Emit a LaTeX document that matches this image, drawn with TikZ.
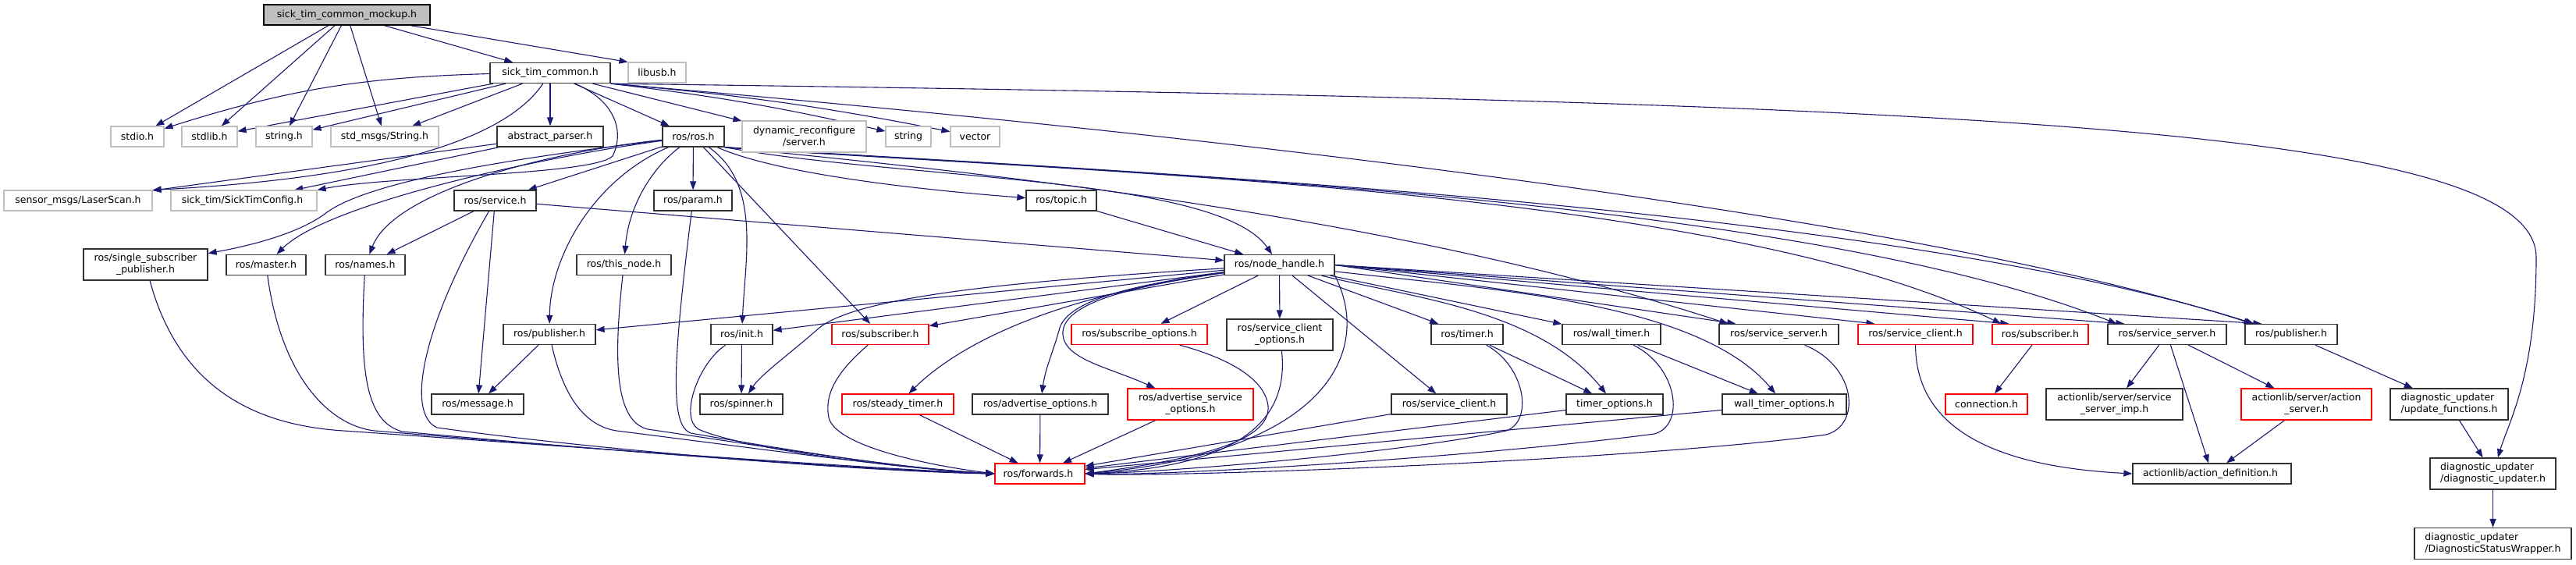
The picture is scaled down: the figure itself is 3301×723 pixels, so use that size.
\documentclass[tikz,border=0pt]{standalone}
\usepackage{fontspec}
\setmainfont{DejaVu Sans}
\usepackage{tikz}
\usetikzlibrary{arrows.meta, backgrounds}
\definecolor{edgeblue}{RGB}{25, 25, 112}
\definecolor{sysgray}{RGB}{191, 191, 191}
\definecolor{nodocred}{RGB}{255, 0, 0}

\begin{document}
\begin{tikzpicture}[
  x=1pt, y=1pt,
  hdr/.style={rectangle, draw=black!80, line width=1.3pt, fill=white, inner sep=0pt,
              font=\fontsize{12.5}{15}\selectfont, align=center},
  sysh/.style={hdr, draw=sysgray, line width=1.1pt},
  nodoc/.style={hdr, draw=nodocred},
  curfile/.style={hdr, draw=black, fill=sysgray},
  dep/.style={draw=edgeblue, line width=1.1pt, -{Triangle[length=11pt, width=8pt]}},
]
  \useasboundingbox (0,0) rectangle (3301,-723);

  % --- the file itself ---
  \node[curfile, minimum width=213, minimum height=26] (mock) at (444.5,-19)
    {sick\_tim\_common\_mockup.h};

  % documented headers
  \foreach \nm/\x/\y/\w/\h/\txt in {
    stc/705/93.5/154/26/{sick\_tim\_common.h},
    absp/705/175/136/26/{abstract\_parser.h},
    rosh/888.5/175/79/26/{ros/ros.h},
    service/634.5/257/105/26/{ros/service.h},
    param/888/257/100/26/{ros/param.h},
    topic/1360/257/90/26/{ros/topic.h},
    ssp/186.5/339/159/40/{ros/single\_subscriber\\\_publisher.h},
    master/341/339.5/102/26/{ros/master.h},
    names/468/339.5/102/26/{ros/names.h},
    thisnode/799.5/339.5/121/26/{ros/this\_node.h},
    nh/1639.5/339.5/141/26/{ros/node\_handle.h},
    pubL/704/428.5/118/26/{ros/publisher.h},
    init/950.5/428.5/79/26/{ros/init.h},
    scopt/1640/429/136/40/{ros/service\_client\\\_options.h},
    timer/1880/428.5/92/26/{ros/timer.h},
    wtimer/2065/428.5/126/26/{ros/wall\_timer.h},
    ssM/2279.5/428.5/153/26/{ros/service\_server.h},
    ssR/2777/428.5/152/26/{ros/service\_server.h},
    pubR/2936/428.5/118/26/{ros/publisher.h},
    msg/612/518/118/26/{ros/message.h},
    spin/950/518/106/26/{ros/spinner.h},
    advopt/1333/518/174/26/{ros/advertise\_options.h},
    scL/1857/518/148/26/{ros/service\_client.h},
    topt/2069/518/124/26/{timer\_options.h},
    wtopt/2286.5/518/159/26/{wall\_timer\_options.h},
    ssimp/2709.5/518/175/40/{actionlib/server/service\\\_server\_imp.h},
    adef/2834.5/607/203/26/{actionlib/action\_definition.h}
  } {
    \node[hdr, minimum width=\w, minimum height=\h] (\nm) at (\x,-\y) {\txt};
  }
  % diagnostic_updater, left aligned
  \foreach \nm/\x/\y/\w/\h/\ta/\tb in {
    updfn/3138.5/518/151/40/{diagnostic\_updater}/{/update\_functions.h},
    dupd/3194.5/607/161/40/{diagnostic\_updater}/{/diagnostic\_updater.h},
    dsw/3194.5/696.5/201/40/{diagnostic\_updater}/{/DiagnosticStatusWrapper.h}
  } {
    \node[hdr, minimum width=\w, minimum height=\h] (\nm) at (\x,-\y)
      {\begin{tabular}{@{}l@{}}\ta\tabularnewline\tb\end{tabular}};
  }

  % system headers
  \foreach \nm/\x/\y/\w/\h/\txt in {
    libusb/842/93/74/26/{libusb.h},
    stdio/176/175/68/26/{stdio.h},
    stdlib/268.5/175/71/26/{stdlib.h},
    stringh/364/175/72/26/{string.h},
    stdmsg/493/175/138/26/{std\_msgs/String.h},
    dynrec/1030.5/175/159/40/{dynamic\_reconfigure\\{}/server.h},
    strg/1164/175/58/26/{string},
    vec/1249.5/175/63/26/{vector},
    laser/100/257/190/26/{sensor\_msgs/LaserScan.h},
    stcfg/312.5/257/187/26/{sick\_tim/SickTimConfig.h}
  } {
    \node[sysh, minimum width=\w, minimum height=\h] (\nm) at (\x,-\y) {\txt};
  }

  % headers without docs
  \foreach \nm/\x/\y/\w/\h/\txt in {
    subL/1128/428.5/124/26/{ros/subscriber.h},
    subopt/1460/428.5/174/26/{ros/subscribe\_options.h},
    scR/2454.5/428.5/147/26/{ros/service\_client.h},
    subR/2614.5/428.5/123/26/{ros/subscriber.h},
    steady/1150.5/518/143/26/{ros/steady\_timer.h},
    advsrv/1525.5/518/161/40/{ros/advertise\_service\\\_options.h},
    conn/2545.5/518/105/26/{connection.h},
    aserv/2955.5/518/167/40/{actionlib/server/action\\\_server.h},
    fwd/1332.5/607/115/26/{ros/forwards.h}
  } {
    \node[nodoc, minimum width=\w, minimum height=\h] (\nm) at (\x,-\y) {\txt};
  }

  \begin{scope}[on background layer]
    % --- straight includes ---
    \foreach \a/\b in {mock/stdio, mock/stdlib, mock/stringh, mock/stdmsg, mock/stc,
      stc/stdlib, stc/stringh, stc/stdmsg, stc/absp, stc/rosh, stc/dynrec,
      absp/laser, absp/stcfg, rosh/service, rosh/param, rosh/subL,
      service/names, service/msg, service/nh, topic/nh,
      nh/pubL, nh/init, nh/subL, nh/subopt, nh/scopt, nh/scL, nh/timer, nh/wtimer,
      init/spin, pubL/msg, timer/topt, wtimer/wtopt,
      steady/fwd, advopt/fwd, advsrv/fwd, scL/fwd, topt/fwd, wtopt/fwd,
      subR/conn, ssR/ssimp, ssR/adef, ssR/aserv, aserv/adef,
      pubR/updfn, updfn/dupd, dupd/dsw}
      \draw[dep] (\a) -- (\b);
    \draw[dep] (mock) -- (libusb.north west);

    % --- sick_tim_common.h ---
    \draw[dep] (stc) to[bend right=8] (stdio);
    \draw[dep] (stc.south east) to[bend left=3] (strg);
    \draw[dep] (stc.south east) to[bend left=3] (vec);
    \draw[dep] (stc) .. controls (640,-190) and (450,-230) .. (laser.north east);
    \draw[dep] (stc) .. controls (790,-130) and (800,-170) .. (785,-200)
      .. controls (760,-225) and (500,-225) .. (stcfg.north east);
    \draw[dep] (stc.south east) .. controls (1700,-185) and (2500,-290)
      .. ([xshift=10pt]pubR.north west);
    \draw[dep] (stc.south east) .. controls (2500,-130) and (3250,-160) .. (3250,-330)
      .. controls (3250,-480) and (3215,-540) .. (dupd);

    % --- ros/ros.h ---
    \draw[dep] (rosh) .. controls (680,-200) and (470,-230) .. (415,-275)
      .. controls (380,-300) and (320,-315) .. (ssp);
    \draw[dep] (rosh) .. controls (700,-200) and (420,-260) .. (master);
    \draw[dep] (rosh) .. controls (700,-195) and (505,-245) .. (names);
    \draw[dep] (rosh) .. controls (830,-220) and (805,-270) .. (thisnode);
    \draw[dep] (rosh) .. controls (760,-230) and (705,-330) .. (pubL);
    \draw[dep] (rosh) .. controls (975,-235) and (955,-330) .. (init);
    \draw[dep] (rosh) .. controls (1000,-225) and (1200,-245) .. (topic);
    \draw[dep] (rosh.south east) .. controls (1150,-230) and (1560,-225) .. (nh);
    \draw[dep] (rosh.south east) .. controls (1300,-225) and (1800,-280)
      .. ([xshift=12pt]ssM.north west);
    \foreach \b/\cx/\ya/\yb in {subR/2200/222/240, ssR/2300/220/250, pubR/2400/218/260}
      \draw[dep] (rosh.south east) .. controls (1400,-\ya) and (\cx,-\yb)
        .. ([xshift=12pt]\b.north west);

    % --- ros/node_handle.h ---
    \draw[dep] (nh) .. controls (1300,-360) and (1100,-380) .. (1050,-420)
      .. controls (1010,-455) and (975,-480) .. (spin);
    \draw[dep] (nh) .. controls (1350,-380) and (1230,-440) .. (steady);
    \draw[dep] (nh) .. controls (1450,-365) and (1370,-385) .. (1358,-420)
      .. controls (1350,-450) and (1340,-470) .. (advopt);
    \draw[dep] (nh) .. controls (1440,-368) and (1365,-390) .. (1362,-425)
      .. controls (1360,-460) and (1420,-470) .. (advsrv);
    \draw[dep] (nh.south east) .. controls (1760,-450) and (1700,-580) .. (fwd.east);
    \draw[dep] (nh) .. controls (1800,-380) and (1970,-395) .. (topt);
    \draw[dep] (nh) .. controls (1900,-370) and (2175,-385) .. (wtopt);
    \foreach \b in {ssM, scR, subR, ssR, pubR}
      \draw[dep] (nh.east) -- ([xshift=22pt]\b.north west);

    % --- into ros/forwards.h from the left ---
    \draw[dep] (ssp) .. controls (230,-500) and (330,-545) .. (440,-552)
      .. controls (700,-570) and (1100,-600) .. (fwd.west);
    \draw[dep] (master) .. controls (360,-480) and (420,-545) .. (480,-552)
      .. controls (720,-572) and (1100,-602) .. (fwd.west);
    \draw[dep] (names) .. controls (460,-480) and (470,-540) .. (515,-553)
      .. controls (740,-574) and (1100,-603) .. (fwd.west);
    \draw[dep] (service) .. controls (540,-420) and (520,-530) .. (560,-548)
      .. controls (760,-576) and (1100,-604) .. (fwd.west);
    \draw[dep] (pubL) .. controls (720,-500) and (745,-545) .. (790,-552)
      .. controls (950,-572) and (1150,-600) .. (fwd.west);
    \draw[dep] (thisnode) .. controls (785,-470) and (790,-540) .. (830,-550)
      .. controls (980,-572) and (1150,-600) .. (fwd.west);
    \draw[dep] (param) .. controls (860,-480) and (860,-545) .. (885,-555)
      .. controls (1000,-575) and (1150,-600) .. (fwd.west);
    \draw[dep] (init) .. controls (895,-465) and (870,-535) .. (895,-550)
      .. controls (950,-575) and (1150,-600) .. (fwd.west);
    \draw[dep] (subL) .. controls (1080,-470) and (1055,-500) .. (1062,-535)
      .. controls (1070,-570) and (1180,-595) .. (fwd.west);

    % --- into ros/forwards.h from the right ---
    \draw[dep] (subopt) .. controls (1560,-455) and (1620,-480) .. (1625,-520)
      .. controls (1628,-560) and (1560,-585) .. (fwd.east);
    \draw[dep] (scopt) .. controls (1655,-560) and (1550,-600) .. (fwd.east);
    \draw[dep] (timer) .. controls (1955,-470) and (1965,-540) .. (1930,-552)
      .. controls (1800,-580) and (1500,-605) .. (fwd.east);
    \draw[dep] (wtimer) .. controls (2150,-470) and (2160,-545) .. (2120,-556)
      .. controls (1900,-585) and (1500,-610) .. (fwd.east);
    \draw[dep] (ssM) .. controls (2380,-470) and (2385,-545) .. (2340,-557)
      .. controls (2100,-590) and (1500,-612) .. (fwd.east);

    % actionlib
    \draw[dep] (scR) .. controls (2455,-570) and (2600,-600) .. (adef.west);
  \end{scope}

\end{tikzpicture}
\end{document}
